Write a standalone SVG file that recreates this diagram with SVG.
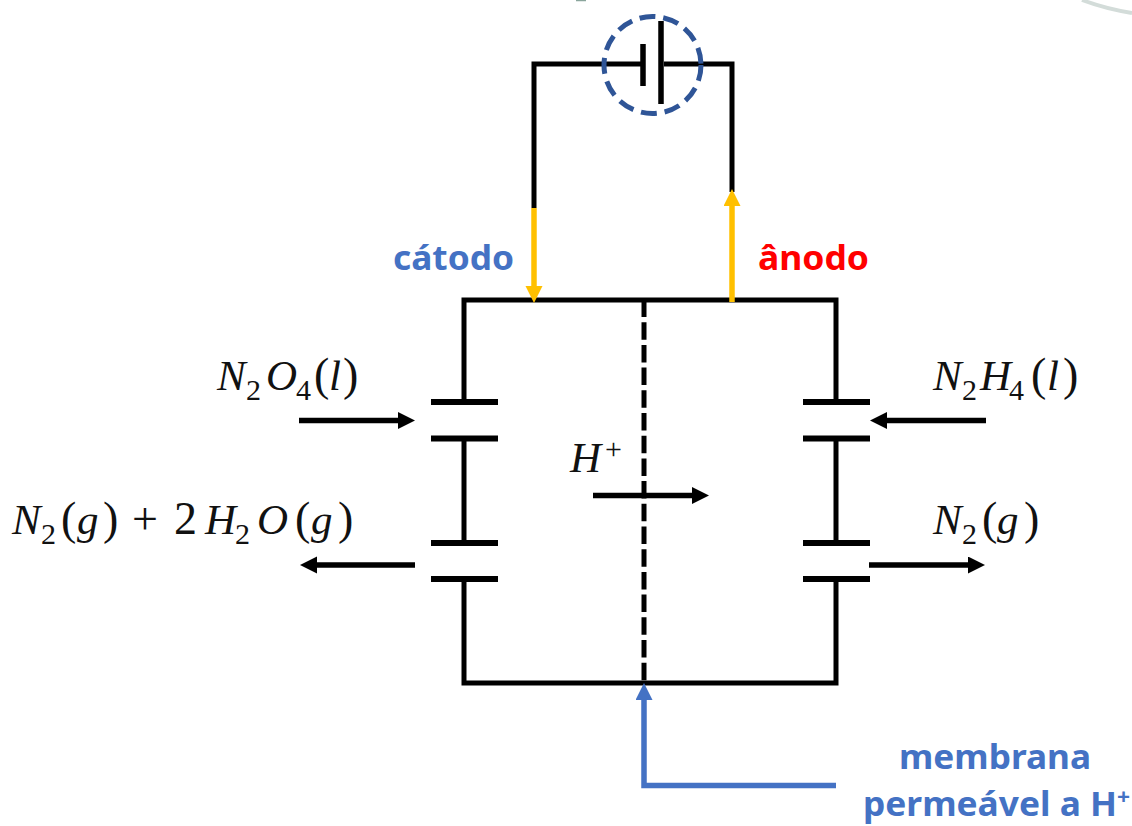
<svg xmlns="http://www.w3.org/2000/svg" width="1132" height="826" viewBox="0 0 1132 826">
<style>
.w{fill:none;stroke:#000;stroke-width:5}
.c{fill:none;stroke:#000;stroke-width:6}
.a{fill:none;stroke:#000;stroke-width:5.500}
.y{fill:none;stroke:#FFC000;stroke-width:5.500}
.b{fill:none;stroke:#4472C4;stroke-width:5.500}
.m{font-family:"Liberation Serif",serif;font-style:italic;font-size:43px;fill:#111}
.u{font-style:normal;font-size:46px}
.s{font-style:normal;font-size:30px}
.l{font-family:"Noto Sans",sans-serif;font-weight:700;font-size:34px}
</style>
<defs>
<marker id="ah" markerUnits="userSpaceOnUse" markerWidth="18" markerHeight="18" refX="2" refY="8.500" orient="auto"><path d="M0 0L17 8.500L0 17Z" fill="#000"/></marker>
<marker id="ay" markerUnits="userSpaceOnUse" markerWidth="18" markerHeight="18" refX="2" refY="8.500" orient="auto"><path d="M0 0L17 8.500L0 17Z" fill="#FFC000"/></marker>
<marker id="ab" markerUnits="userSpaceOnUse" markerWidth="18" markerHeight="18" refX="2" refY="8.500" orient="auto"><path d="M0 0L17 8.500L0 17Z" fill="#4472C4"/></marker>
</defs>
<rect width="1132" height="826" fill="#fff"/>
<path d="M1082 0Q1106 9 1132 13" fill="none" stroke="#d3dcd9" stroke-width="4"/>
<path d="M576 0.500H586" fill="none" stroke="#8aa59c" stroke-width="1.500"/>
<g id="connectors">
<path class="w" d="M534 208V64H642M664 64H732V192"/>
<path class="w" d="M464 402V300H836V402M464 439V543M836 439V543M464 579V683H836V579"/>
<path class="w" d="M644 299.500V683" stroke-width="5.500" stroke-dasharray="17.500 5.200"/>
<path class="c" d="M431 402H498M431 438.500H498M431 543H498M431 579H498M803 402H870M803 438.500H870M803 543H870M803 579H870"/>
<path class="y" d="M534 208V288" marker-end="url(#ay)"/>
<path class="y" d="M732 302V204" marker-end="url(#ay)"/>
<path class="a" d="M299 420.500H400" marker-end="url(#ah)"/>
<path class="a" d="M415 565H315" marker-end="url(#ah)"/>
<path class="a" d="M986 420.500H885" marker-end="url(#ah)"/>
<path class="a" d="M869 565H970" marker-end="url(#ah)"/>
<path class="a" d="M593 495.500H694" marker-end="url(#ah)"/>
<path class="b" d="M836 785.500H644V698" marker-end="url(#ab)"/>
</g>
<g id="battery">
<circle cx="652.500" cy="65" r="48.500" fill="none" stroke="#2F5597" stroke-width="5" stroke-dasharray="16 7.900"/>
<path class="a" d="M643 44V86M661 21V104"/>
</g>
<g id="label-n2o4"><text class="m" y="390"><tspan x="217">N</tspan><tspan class="s" x="246" y="400">2</tspan><tspan x="266" y="390">O</tspan><tspan class="s" x="296" y="400">4</tspan><tspan class="u" x="314" y="390">(</tspan><tspan x="329" y="390">l</tspan><tspan class="u" x="343" y="390">)</tspan></text></g>
<g id="label-n2h2o"><text class="m" y="534"><tspan x="12">N</tspan><tspan class="s" x="41" y="544">2</tspan><tspan class="u" x="61" y="534">(</tspan><tspan x="77" y="534">g</tspan><tspan class="u" x="103" y="534">)</tspan><tspan class="u" x="132" y="534">+</tspan><tspan class="u" x="174" y="534">2</tspan><tspan x="205" y="534">H</tspan><tspan class="s" x="235" y="544">2</tspan><tspan x="257" y="534">O</tspan><tspan class="u" x="295" y="534">(</tspan><tspan x="311" y="534">g</tspan><tspan class="u" x="338" y="534">)</tspan></text></g>
<g id="label-n2h4"><text class="m" y="390"><tspan x="933">N</tspan><tspan class="s" x="962" y="400">2</tspan><tspan x="980" y="390">H</tspan><tspan class="s" x="1009" y="400">4</tspan><tspan class="u" x="1031" y="390">(</tspan><tspan x="1047" y="390">l</tspan><tspan class="u" x="1063" y="390">)</tspan></text></g>
<g id="label-n2"><text class="m" y="534"><tspan x="933">N</tspan><tspan class="s" x="962" y="544">2</tspan><tspan class="u" x="982" y="534">(</tspan><tspan x="997" y="534">g</tspan><tspan class="u" x="1024" y="534">)</tspan></text></g>
<g id="label-h"><text class="m" y="472"><tspan x="570">H</tspan><tspan class="s" x="605" y="459" font-size="32">+</tspan></text></g>
<g id="label-catodo"><text class="l" x="393" y="270" fill="#4472C4" textLength="121" lengthAdjust="spacingAndGlyphs">cátodo</text></g>
<g id="label-anodo"><text class="l" x="758" y="270" fill="#FF0000" textLength="111" lengthAdjust="spacingAndGlyphs">ânodo</text></g>
<g id="label-membrana"><text class="l" x="899" y="769" fill="#4472C4" textLength="192" lengthAdjust="spacingAndGlyphs">membrana</text>
<text class="l" x="863" y="816" fill="#4472C4" textLength="267" lengthAdjust="spacingAndGlyphs">permeável a H<tspan font-size="22" dy="-12">+</tspan></text></g>
</svg>
